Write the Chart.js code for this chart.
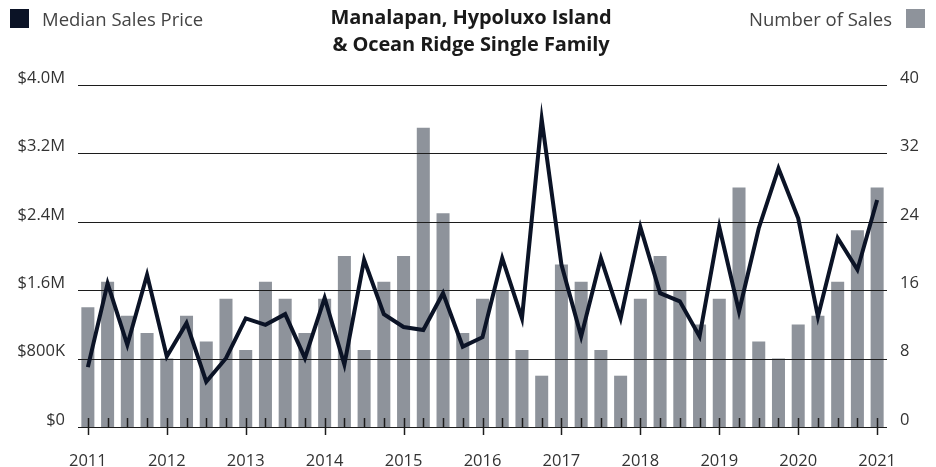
<!DOCTYPE html>
<html>
<head>
<meta charset="utf-8">
<script src="https://cdn.jsdelivr.net/npm/chart.js@4.4.0/dist/chart.umd.min.js"></script>
<style>
  html,body{margin:0;padding:0;background:#fff;}
  #wrap{position:relative;width:936px;height:467px;font-family:"Open Sans",Lato,sans-serif;}
  canvas{position:absolute;left:0;top:0;}
  .leg{position:absolute;top:6px;font-size:18.5px;color:#444;display:flex;align-items:center;}
  .sw{width:19px;height:19px;display:inline-block;}
  #title{position:absolute;left:221px;width:500px;top:3px;text-align:center;font-weight:700;font-size:20px;line-height:27px;color:#1a1a1a;letter-spacing:-0.1px;}
</style>
</head>
<body>
<div id="wrap">
  <canvas id="c" width="936" height="467"></canvas>
  <div class="leg" style="left:10px"><span class="sw" style="background:#0b1326"></span><span style="margin-left:13px">Median Sales Price</span></div>
  <div id="title">Manalapan, Hypoluxo Island<br>&amp; Ocean Ridge Single Family</div>
  <div class="leg" style="right:11px"><span style="margin-right:14px">Number of Sales</span><span class="sw" style="background:#8e939b"></span></div>
</div>
<script>
const quarters = ['2011','2011 Q2','2011 Q3','2011 Q4','2012','2012 Q2','2012 Q3','2012 Q4',
  '2013','2013 Q2','2013 Q3','2013 Q4','2014','2014 Q2','2014 Q3','2014 Q4',
  '2015','2015 Q2','2015 Q3','2015 Q4','2016','2016 Q2','2016 Q3','2016 Q4',
  '2017','2017 Q2','2017 Q3','2017 Q4','2018','2018 Q2','2018 Q3','2018 Q4',
  '2019','2019 Q2','2019 Q3','2019 Q4','2020','2020 Q2','2020 Q3','2020 Q4','2021'];
const salesCount = [14,17,13,11,8,13,10,15,9,17,15,11,15,20,9,17,20,35,25,11,
  15,16,9,6,19,17,9,6,15,20,16,12,15,28,10,8,12,13,17,23,28];
const medianPrice = [700000,1680000,960000,1780000,825000,1215000,530000,805000,1270000,1195000,
  1320000,805000,1510000,730000,1955000,1320000,1170000,1135000,1565000,940000,
  1050000,1975000,1270000,3600000,1900000,1060000,1975000,1270000,2340000,1565000,
  1470000,1060000,2340000,1350000,2325000,3025000,2440000,1290000,2210000,1840000,2655000];
const priceTicks = [0,800000,1600000,2400000,3200000,4000000];
const countTicks = [0,8,16,24,32,40];

const LINE = '#0b1326', BAR = '#8e939b', GRID = '#1c1c1c';

// gridlines + quarter ticks go above the bars but under the price line
const overBars = {
  id:'overBars',
  afterDatasetDraw(chart, args){
    if(args.meta.type!=='bar') return;
    const {ctx, chartArea:a, scales:{x,y1}} = chart;
    ctx.save();
    ctx.strokeStyle = GRID; ctx.lineWidth = 1.2;
    countTicks.forEach(v=>{
      const py = Math.round(y1.getPixelForValue(v))+0.5;
      ctx.beginPath(); ctx.moveTo(a.left,py); ctx.lineTo(a.right,py); ctx.stroke();
    });
    ctx.lineWidth = 1.5;
    const base = y1.getPixelForValue(0);
    quarters.forEach((q,i)=>{
      const px = Math.round(x.getPixelForValue(i))+0.5;
      ctx.beginPath(); ctx.moveTo(px,base-9); ctx.lineTo(px, i%4===0 ? base+8 : base); ctx.stroke();
    });
    ctx.restore();
  }
};

const fmtPrice = v => v===0 ? '$0' : v<1000000 ? '$'+(v/1000)+'K' : '$'+(v/1000000).toFixed(1)+'M';
const tickFont = {family:'"Open Sans", Lato, sans-serif', size:16.5};

new Chart(document.getElementById('c'), {
  data:{
    labels: quarters,
    datasets:[
      {type:'line', label:'Median Sales Price', data:medianPrice, yAxisID:'y', order:0,
       borderColor:LINE, borderWidth:4, pointRadius:0, tension:0, borderJoinStyle:'miter'},
      {type:'bar', label:'Number of Sales', data:salesCount, yAxisID:'y1', order:1,
       backgroundColor:BAR, barPercentage:0.66, categoryPercentage:1}
    ]
  },
  options:{
    responsive:false, animation:false,
    layout:{padding:{top:85,left:0,right:0,bottom:0}},
    plugins:{legend:{display:false}, tooltip:{enabled:false}},
    scales:{
      x:{offset:true, grid:{display:false, drawTicks:false}, border:{display:false},
         afterFit(s){ s.height = 40; },
         ticks:{autoSkip:false, maxRotation:0, padding:24, color:'#333', font:tickFont,
                callback:(v,i)=> i%4===0 ? quarters[i] : ''}},
      y:{position:'left', min:0, max:4000000, grid:{display:false, drawTicks:false}, border:{display:false},
         afterFit(s){ s.width = 78; },
         afterBuildTicks(s){ s.ticks = priceTicks.map(v=>({value:v})); },
         ticks:{padding:13, labelOffset:-7, color:'#333', font:tickFont, callback:fmtPrice}},
      y1:{position:'right', min:0, max:40, grid:{display:false, drawTicks:false}, border:{display:false},
         afterFit(s){ s.width = 49; },
         afterBuildTicks(s){ s.ticks = countTicks.map(v=>({value:v})); },
         ticks:{padding:13, labelOffset:-7, color:'#333', font:tickFont}}
    }
  },
  plugins:[overBars]
});
</script>
</body>
</html>
